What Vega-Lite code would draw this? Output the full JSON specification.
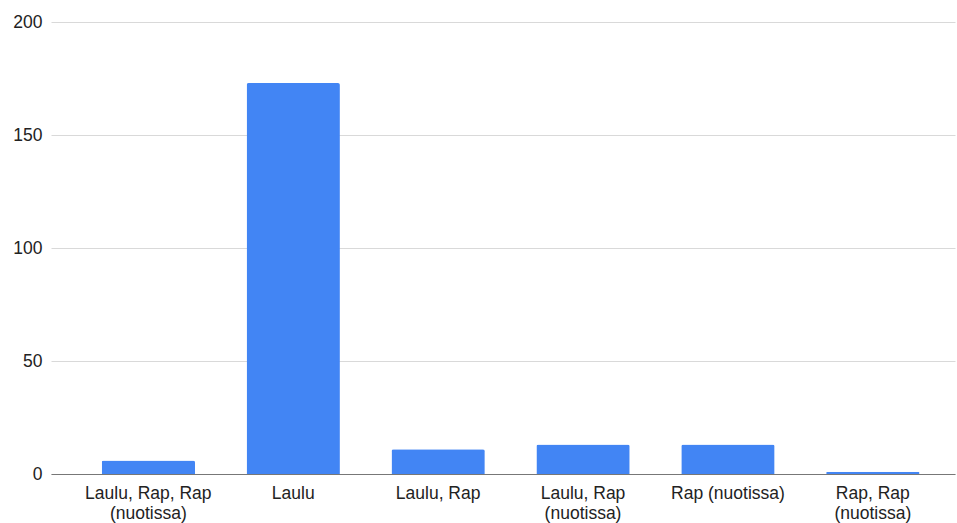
{
  "$schema": "https://vega.github.io/schema/vega-lite/v6.json",
  "autosize": {"type": "none"},
  "width": 904,
  "height": 452,
  "padding": {"left": 51, "top": 22, "right": 2, "bottom": 49},
  "background": "white",
  "data": {
    "values": [
      {"label": "Laulu, Rap, Rap (nuotissa)", "count": 6},
      {"label": "Laulu", "count": 173},
      {"label": "Laulu, Rap", "count": 11},
      {"label": "Laulu, Rap (nuotissa)", "count": 13},
      {"label": "Rap (nuotissa)", "count": 13},
      {"label": "Rap, Rap (nuotissa)", "count": 1}
    ]
  },
  "mark": {"type": "bar", "color": "#4285F4", "cornerRadiusTopLeft": 2, "cornerRadiusTopRight": 2},
  "encoding": {
    "x": {
      "field": "label",
      "type": "nominal",
      "sort": null,
      "scale": {"paddingInner": 0.356, "paddingOuter": 0.2975, "align": 0.588},
      "axis": {
        "title": null,
        "labelAngle": 0,
        "ticks": false,
        "domain": true,
        "domainColor": "#777777",
        "domainWidth": 1,
        "labelFont": "Liberation Sans",
        "labelFontSize": 17.5,
        "labelColor": "#222222",
        "labelPadding": 10,
        "labelLineHeight": 20,
        "labelExpr": "length(datum.label) > 14 ? [substring(datum.label, 0, indexof(datum.label, ' (')), substring(datum.label, indexof(datum.label, ' (') + 1)] : datum.label"
      }
    },
    "y": {
      "field": "count",
      "type": "quantitative",
      "scale": {"domain": [0, 200], "nice": false},
      "axis": {
        "title": null,
        "values": [0, 50, 100, 150, 200],
        "ticks": false,
        "domain": false,
        "grid": true,
        "gridColor": "#d9d9d9",
        "gridWidth": 1,
        "labelFont": "Liberation Sans",
        "labelFontSize": 17.5,
        "labelColor": "#222222",
        "labelPadding": 9
      }
    }
  },
  "config": {"view": {"stroke": null}}
}
